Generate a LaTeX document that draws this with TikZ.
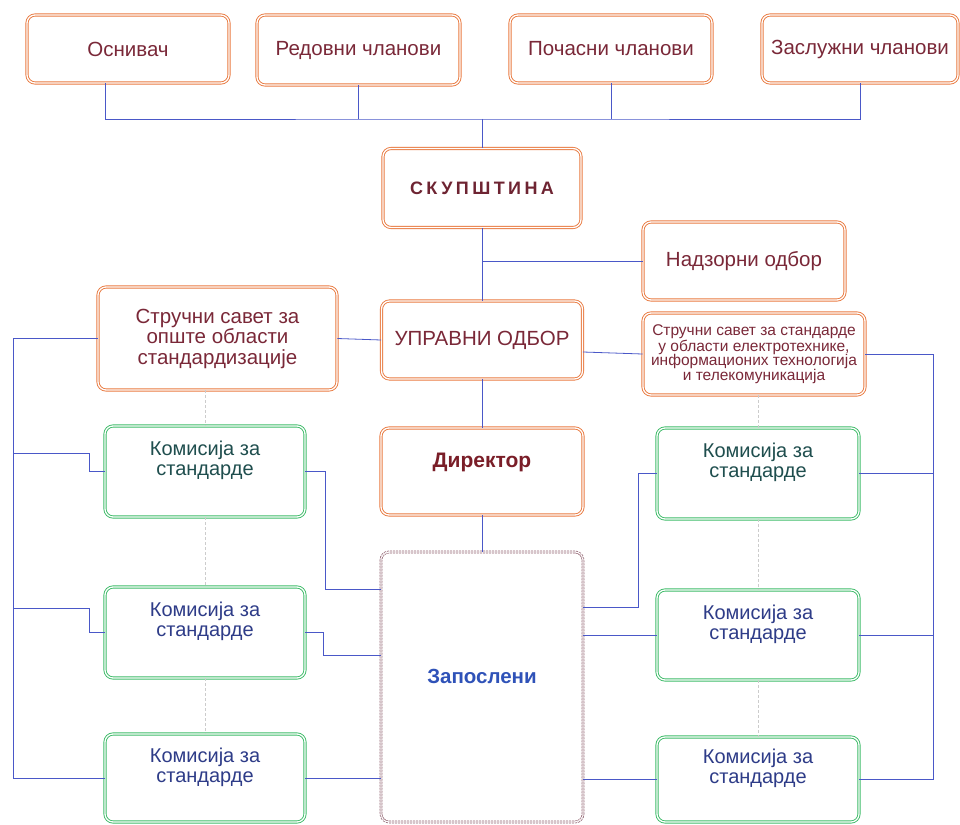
\documentclass[tikz,border=0pt]{standalone}
\usepackage{fontspec}
\setmainfont{Liberation Sans}
\newfontfamily\spacedfont[LetterSpace=19]{Liberation Sans}
\usetikzlibrary{positioning}

\definecolor{boxorange}{HTML}{E97A40}
\definecolor{boxgreen}{HTML}{3DBB68}
\definecolor{staffline}{HTML}{8E5E6C}
\definecolor{linkblue}{HTML}{4A58C8}
\definecolor{textred}{HTML}{7A2838}
\definecolor{darkred}{HTML}{7A1E28}
\definecolor{komteal}{HTML}{1F4E4E}
\definecolor{komblue}{HTML}{2E3C88}
\definecolor{staffblue}{HTML}{2F52B8}

\tikzset{
  orgbox/.style={draw=boxorange, double=white, double distance=1.3pt,
    line width=0.9pt, rounded corners=8pt, fill=white, text=textred,
    align=center, inner sep=3pt, font=\fontsize{20.5}{21}\selectfont},
  kombox/.style={orgbox, draw=boxgreen, minimum width=200pt},
  staffbox/.style={orgbox, draw=staffline, line width=0.7pt,
    dash pattern=on 2pt off 1pt},
  boxtext/.style={align=center, font=\fontsize{20}{20}\selectfont},
  link/.style={draw=linkblue, line width=0.8pt},
  guide/.style={draw=gray!40, densely dashed, line width=0.5pt}
}

\begin{document}
\begin{tikzpicture} [x=1pt, y=-1pt]

        \useasboundingbox (0,0) rectangle (960,824);

        % Members
        \node (osn) [orgbox, minimum width=202pt, minimum height=68pt]
            at (128,49) {Оснивач};
        \node (red) [orgbox, minimum width=203pt, minimum height=70pt]
            at (358.5,50) {Редовни чланови};
        \node (poc) [orgbox, minimum width=202pt, minimum height=68pt]
            at (611,49) {Почасни чланови};
        \node (zas) [orgbox, minimum width=196pt, minimum height=68pt]
            at (860,49) {Заслужни чланови};

        % Assembly
        \node (skup) [orgbox, minimum width=198pt, minimum height=79pt,
            font=\spacedfont\fontsize{18}{19}\selectfont\bfseries,
            text=textred!90!black]
            at (482,188) {СКУПШТИНА};

        % Supervisory board
        \node (nad) [orgbox, minimum width=202pt, minimum height=78pt]
            at (744,261) {Надзорни одбор};

        % Managing board
        \node (upr) [orgbox, minimum width=201pt, minimum height=78pt]
            at (482,340) {УПРАВНИ ОДБОР};

        % Expert councils
        \node (ssl) [orgbox, minimum width=239pt, minimum height=103pt,
            font=\fontsize{20.5}{20.5}\selectfont]
            at (217.5,338.5) {Стручни савет за\\опште области\\стандардизације};
        \node (ssr) [orgbox, minimum width=222pt, minimum height=82pt,
            font=\fontsize{15.5}{14.5}\selectfont]
            at (754,354) {Стручни савет за стандарде\\у области електротехнике,\\информационих технологија\\и телекомуникација};

        % Director
        \node (dir) [orgbox, minimum width=202pt, minimum height=87pt,
            label={[boxtext, yshift=9pt, text=darkred,
              font=\fontsize{21}{21}\selectfont\bfseries]center:Директор}]
            at (482,471.5) {};

        % Staff
        \node (zap) [staffbox, minimum width=202pt, minimum height=270pt,
            label={[boxtext, yshift=11pt, text=staffblue,
              font=\fontsize{20.5}{21}\selectfont\bfseries]center:Запослени}]
            at (482,687) {};

        % Commissions, left
        \node (kl1) [kombox, minimum height=91pt,
            label={[boxtext, yshift=11pt, text=komteal]center:{Комисија за\\стандарде}}]
            at (205,471.5) {};
        \node (kl2) [kombox, minimum height=91pt,
            label={[boxtext, yshift=11pt, text=komblue]center:{Комисија за\\стандарде}}]
            at (205,632.5) {};
        \node (kl3) [kombox, minimum height=88pt,
            label={[boxtext, yshift=11pt, text=komblue]center:{Комисија за\\стандарде}}]
            at (205,778) {};

        % Commissions, right
        \node (kr1) [kombox, minimum width=202pt, minimum height=91pt,
            label={[boxtext, yshift=11pt, text=komteal]center:{Комисија за\\стандарде}}]
            at (758,473.5) {};
        \node (kr2) [kombox, minimum width=202pt, minimum height=90pt,
            label={[boxtext, yshift=11pt, text=komblue]center:{Комисија за\\стандарде}}]
            at (758,635) {};
        \node (kr3) [kombox, minimum width=202pt, minimum height=85pt,
            label={[boxtext, yshift=11pt, text=komblue]center:{Комисија за\\стандарде}}]
            at (758,779.5) {};

        % Bend points
        \coordinate (bus) at (482,119);
        \coordinate (lbus) at (13,778);
        \coordinate (rbus) at (933,779.5);
        \coordinate (kl1in) at (89,453);
        \coordinate (kl2in) at (89,608);
        \coordinate (kl1out) at (325,589);
        \coordinate (kl2out) at (323,655);
        \coordinate (kr1in) at (638,607);

        % Connectors
        \draw [link] ([xshift=-23pt]osn.south) |- (bus) -| (zas.south);
        \draw [link] (red.south) -- (red.south |- bus);
        \draw [link] (poc.south) -- (poc.south |- bus);
        \draw [link] (bus) -- (skup.north);
        \draw [link] (skup.south) -- (upr.north);
        \draw [link] (nad.west) -- (nad.west -| skup.south);
        \draw [link] (upr.west) -- (ssl.east);
        \draw [link] ([yshift=-12pt]upr.east) -- (ssr.west);
        \draw [link] (upr.south) -- (dir.north);
        \draw [link] (dir.south) -- (zap.north);

        % Left side
        \draw [link] (ssl.west) -| (lbus) -- (kl3.west);
        \draw [link] (kl1in -| lbus) -- (kl1in) |- (kl1.west);
        \draw [link] (kl2in -| lbus) -- (kl2in) |- (kl2.west);
        \draw [link] (kl1.east) -| (kl1out) -- (kl1out -| zap.west);
        \draw [link] (kl2.east) -| (kl2out) -- (kl2out -| zap.west);
        \draw [link] (kl3.east) -- (kl3.east -| zap.west);

        % Right side
        \draw [link] (kr1in -| zap.east) -- (kr1in) |- (kr1.west);
        \draw [link] (kr2.west) -- (kr2.west -| zap.east);
        \draw [link] (kr3.west) -- (kr3.west -| zap.east);
        \draw [link] (ssr.east) -| (rbus) -- (kr3.east);
        \draw [link] (kr1.east) -- (kr1.east -| rbus);
        \draw [link] (kr2.east) -- (kr2.east -| rbus);

        % Guides
        \draw [guide] (ssl.south -| kl1.north) -- (kl1.north);
        \draw [guide] (kl1.south) -- (kl2.north);
        \draw [guide] (kl2.south) -- (kl3.north);
        \draw [guide] (ssr.south -| kr1.north) -- (kr1.north);
        \draw [guide] (kr1.south) -- (kr2.north);
        \draw [guide] (kr2.south) -- (kr3.north);
\end{tikzpicture}
\end{document}
